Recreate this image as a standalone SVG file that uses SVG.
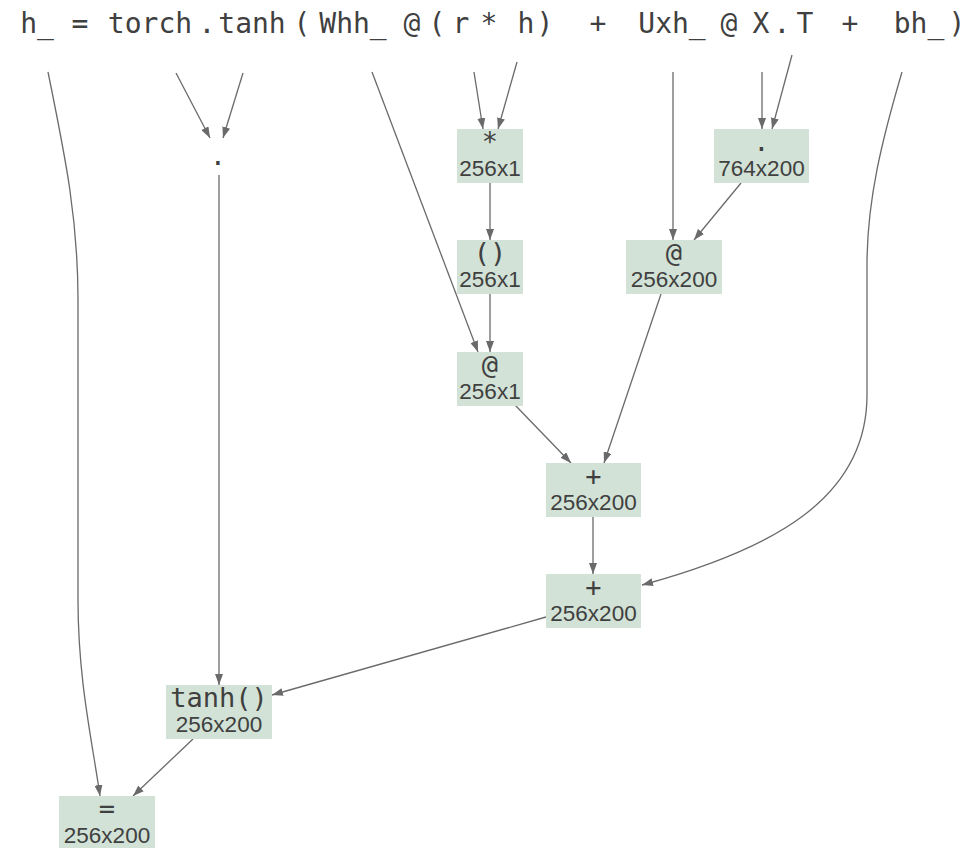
<svg xmlns="http://www.w3.org/2000/svg" width="976" height="848" viewBox="0 0 976 848">
<style>
.tok{font-family:"DejaVu Sans Mono",monospace;font-size:28px;fill:#404040;text-anchor:middle}
.op{font-family:"DejaVu Sans Mono",monospace;font-size:27px;fill:#404040;text-anchor:middle}
.dim{font-family:"Liberation Sans",Arial,sans-serif;font-size:22.5px;fill:#404040;text-anchor:middle}
.box{fill:#d2e2d6}
.e{fill:none;stroke:#6a6a6a;stroke-width:1.3;marker-end:url(#ah)}
</style>
<defs>
<marker id="ah" markerUnits="userSpaceOnUse" markerWidth="11" markerHeight="8" refX="11" refY="4" orient="auto">
<path d="M0,0 L11,4 L0,8 z" fill="#6a6a6a"/>
</marker>
</defs>
<rect width="976" height="848" fill="#ffffff"/>
<g id="code">
<text class="tok" x="37" y="33">h_</text>
<text class="tok" x="80" y="33">=</text>
<text class="tok" x="150" y="33">torch</text>
<text class="tok" x="207" y="33">.</text>
<text class="tok" x="252" y="33">tanh</text>
<text class="tok" x="302" y="33">(</text>
<text class="tok" x="353" y="33">Whh_</text>
<text class="tok" x="412" y="33">@</text>
<text class="tok" x="437" y="33">(</text>
<text class="tok" x="461" y="33">r</text>
<text class="tok" x="489" y="33">*</text>
<text class="tok" x="526" y="33">h</text>
<text class="tok" x="545" y="33">)</text>
<text class="tok" x="598" y="33">+</text>
<text class="tok" x="672" y="33">Uxh_</text>
<text class="tok" x="729" y="33">@</text>
<text class="tok" x="761" y="33">X</text>
<text class="tok" x="782" y="33">.</text>
<text class="tok" x="805" y="33">T</text>
<text class="tok" x="850" y="33">+</text>
<text class="tok" x="919" y="33">bh_</text>
<text class="tok" x="957" y="33">)</text>
</g>
<g id="connectors">
<path class="e" d="M48,72 C66,160 78,220 78,300 L78,600 C78,680 92,740 100,796"/>
<path class="e" d="M176,73 L210,138"/>
<path class="e" d="M243,73 L223,138"/>
<path class="e" d="M219,175 L219,685"/>
<path class="e" d="M372,72 L478,352"/>
<path class="e" d="M474,72 L483,129"/>
<path class="e" d="M517,62 L498,129"/>
<path class="e" d="M490,183 L490,240"/>
<path class="e" d="M490,294 L490,352"/>
<path class="e" d="M673,72 L673,240"/>
<path class="e" d="M762,72 L762,129"/>
<path class="e" d="M792,55 L772,129"/>
<path class="e" d="M741,183 L694,240"/>
<path class="e" d="M661,294 L604,463"/>
<path class="e" d="M515,405 L571,463"/>
<path class="e" d="M593,517 L593,574"/>
<path class="e" d="M902,72 C882,140 867,200 867,265 L867,395 C867,500 770,550 642,585"/>
<path class="e" d="M546,617 L272,695"/>
<path class="e" d="M193,739 L133,796"/>
</g>
<g id="n_dot">
<text class="op" x="218" y="165">.</text>
</g>
<g id="n_mul">
<rect class="box" x="457" y="129" width="66" height="54"/>
<text class="op" x="490" y="151">*</text>
<text class="dim" x="490" y="176">256x1</text>
</g>
<g id="n_paren">
<rect class="box" x="457" y="240" width="66" height="54"/>
<text class="op" x="490" y="262">()</text>
<text class="dim" x="490" y="287">256x1</text>
</g>
<g id="n_matmul1">
<rect class="box" x="457" y="352" width="66" height="54"/>
<text class="op" x="490" y="374">@</text>
<text class="dim" x="490" y="399">256x1</text>
</g>
<g id="n_T">
<rect class="box" x="714" y="129" width="95" height="54"/>
<text class="op" x="761.5" y="151">.</text>
<text class="dim" x="761.5" y="176">764x200</text>
</g>
<g id="n_matmul2">
<rect class="box" x="626" y="240" width="96" height="54"/>
<text class="op" x="674" y="262">@</text>
<text class="dim" x="674" y="287">256x200</text>
</g>
<g id="n_add1">
<rect class="box" x="546" y="463" width="95" height="54"/>
<text class="op" x="593.5" y="485">+</text>
<text class="dim" x="593.5" y="510">256x200</text>
</g>
<g id="n_add2">
<rect class="box" x="546" y="574" width="95" height="54"/>
<text class="op" x="593.5" y="596">+</text>
<text class="dim" x="593.5" y="621">256x200</text>
</g>
<g id="n_tanh">
<rect class="box" x="166" y="685" width="106" height="54"/>
<text class="op" x="219" y="707">tanh()</text>
<text class="dim" x="219" y="732">256x200</text>
</g>
<g id="n_assign">
<rect class="box" x="59" y="796" width="96" height="54"/>
<text class="op" x="107" y="818">=</text>
<text class="dim" x="107" y="843">256x200</text>
</g>
</svg>
